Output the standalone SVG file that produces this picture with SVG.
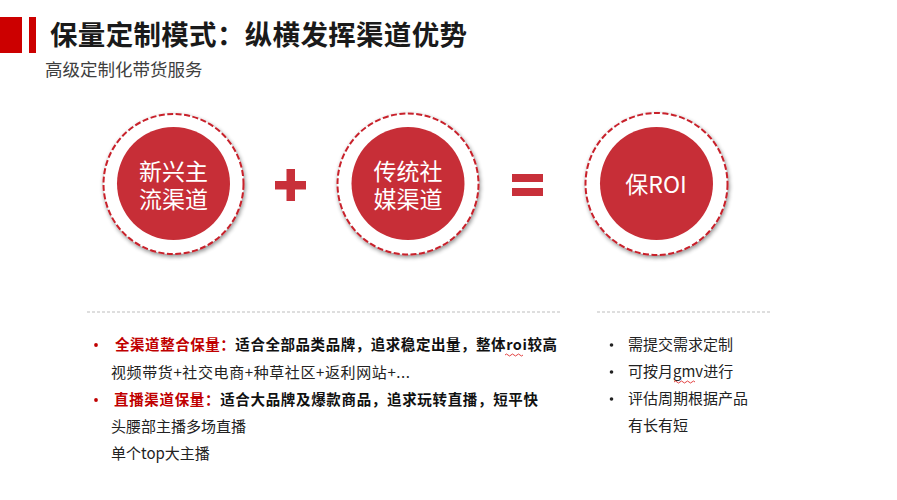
<svg xmlns="http://www.w3.org/2000/svg" width="897" height="500" viewBox="0 0 897 500">
<defs>
<style>
.cjk{font-family:"Noto Sans CJK SC","Liberation Sans",sans-serif}
.title{font-size:27.5px;font-weight:bold;fill:#1a1a1a}
.sub{font-size:17.5px;fill:#3f3f3f}
.ctext{font-size:23px;fill:#ffffff;text-anchor:middle}
.ring{fill:#ffffff;stroke:#c8202c;stroke-width:2;stroke-dasharray:6 2.5}
.core{fill:#c72e37}
.op{fill:#c8303a}
.div{stroke:#bdbdbd;stroke-width:1;stroke-dasharray:3 2}
.b1{font-size:14.5px;font-weight:bold;fill:#111111}
.red{fill:#c00000}
.t{font-size:15px;fill:#222222}
.dotr{fill:#c00000}
.dotk{fill:#222222}
.wavy{fill:none;stroke:#e03030;stroke-width:0.9}
</style>
<filter id="sh" x="-20%" y="-20%" width="140%" height="140%">
<feGaussianBlur in="SourceAlpha" stdDeviation="2"/>
<feOffset dx="1" dy="1.5" result="b"/>
<feComponentTransfer><feFuncA type="linear" slope="0.45"/></feComponentTransfer>
<feMerge><feMergeNode/><feMergeNode in="SourceGraphic"/></feMerge>
</filter>
</defs>
<rect width="897" height="500" fill="#ffffff"/>
<g id="header">
<rect x="0" y="17" width="22" height="36" fill="#cc0000"/>
<rect x="29" y="17" width="7" height="36" fill="#cc0000"/>
<text class="cjk title" x="50" y="45" textLength="417">保量定制模式：纵横发挥渠道优势</text>
<text class="cjk sub" x="45" y="76">高级定制化带货服务</text>
</g>
<g id="node-emerging">
<circle class="ring" cx="173.5" cy="184" r="70" filter="url(#sh)"/>
<circle class="core" cx="173.5" cy="183.5" r="56.5"/>
<text class="cjk ctext" x="173.5" y="180">新兴主<tspan x="173.5" dy="28">流渠道</tspan></text>
</g>
<g id="op-plus">
<rect class="op" x="275" y="181" width="31" height="8.5"/>
<rect class="op" x="286.5" y="169" width="8.5" height="32"/>
</g>
<g id="node-traditional">
<circle class="ring" cx="408" cy="184" r="70.5" filter="url(#sh)"/>
<circle class="core" cx="408" cy="183.5" r="56.5"/>
<text class="cjk ctext" x="408" y="180">传统社<tspan x="408" dy="28">媒渠道</tspan></text>
</g>
<g id="op-equals">
<rect class="op" x="512" y="174" width="31" height="8"/>
<rect class="op" x="512" y="188" width="31" height="8"/>
</g>
<g id="node-roi">
<circle class="ring" cx="656.5" cy="184" r="71" filter="url(#sh)"/>
<circle class="core" cx="656.5" cy="183.5" r="56.5"/>
<text class="cjk ctext" x="656" y="193" font-size="24">保ROI</text>
</g>
<g id="dividers">
<line class="div" x1="87" y1="312" x2="561" y2="312"/>
<line class="div" x1="597" y1="312" x2="770" y2="312"/>
</g>
<g id="left-list">
<circle class="dotr" cx="96" cy="345" r="1.9"/>
<text class="cjk b1" x="115" y="350" textLength="442"><tspan class="red">全渠道整合保量：</tspan>适合全部品类品牌，追求稳定出量，整体roi较高</text>
<path class="wavy" d="M505 355 q1.5 -2 3 0 t3 0 t3 0 t3 0 t3 0 t3 0"/>
<text class="cjk t" x="111" y="378" textLength="299">视频带货+社交电商+种草社区+返利网站+...</text>
<circle class="dotr" cx="96" cy="400" r="1.9"/>
<text class="cjk b1" x="114" y="405" textLength="424"><tspan class="red">直播渠道保量：</tspan>适合大品牌及爆款商品，追求玩转直播，短平快</text>
<text class="cjk t" x="111" y="432">头腰部主播多场直播</text>
<text class="cjk t" x="111" y="459">单个top大主播</text>
</g>
<g id="right-list">
<circle class="dotk" cx="611.5" cy="345" r="1.8"/>
<text class="cjk t" x="628" y="350" textLength="105">需提交需求定制</text>
<circle class="dotk" cx="611.5" cy="372" r="1.8"/>
<text class="cjk t" x="628" y="377">可按月gmv进行</text>
<path class="wavy" d="M674 382 q1.5 -2 3 0 t3 0 t3 0 t3 0 t3 0 t3 0 t3 0"/>
<circle class="dotk" cx="611.5" cy="399" r="1.8"/>
<text class="cjk t" x="628" y="404">评估周期根据产品</text>
<text class="cjk t" x="628" y="431">有长有短</text>
</g>
</svg>
